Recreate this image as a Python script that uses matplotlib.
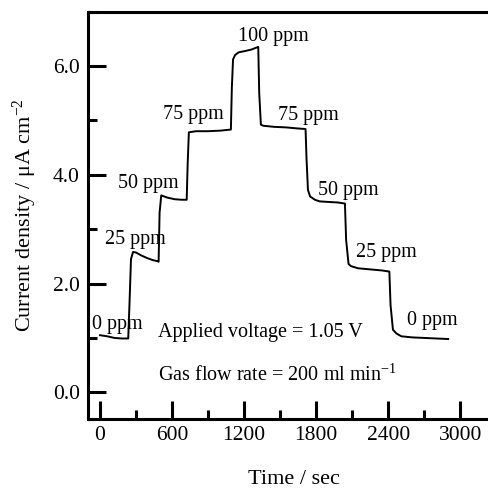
import numpy as np
import matplotlib
matplotlib.use("Agg")
import matplotlib.pyplot as plt
from matplotlib.ticker import MultipleLocator

plt.rcParams['font.family'] = ['Liberation Serif', 'DejaVu Serif']
plt.rcParams['mathtext.default'] = 'regular'

# time (sec) and current density (uA cm^-2)
time_s = [0, 60, 120, 180, 235, 245, 258, 275, 300, 340, 390, 440, 480, 488,
          496, 510, 560, 620, 680, 722, 730, 740, 800, 900, 1000, 1090,
          1098, 1108, 1125, 1155, 1200, 1260, 1318, 1326, 1340, 1360, 1450,
          1550, 1650, 1712, 1720, 1732, 1750, 1790, 1830, 1900, 1980, 2040,
          2050, 2070, 2090, 2150, 2250, 2350, 2410, 2420, 2440, 2470, 2510,
          2600, 2700, 2800, 2900]
current = [1.05, 1.03, 1.00, 0.99, 0.99, 1.60, 2.45, 2.58, 2.57, 2.52, 2.47,
           2.43, 2.41, 2.40, 3.30, 3.62, 3.58, 3.55, 3.54, 3.54, 4.20, 4.78,
           4.80, 4.80, 4.81, 4.83, 5.60, 6.12, 6.20, 6.25, 6.27, 6.30, 6.35,
           5.50, 4.92, 4.90, 4.88, 4.87, 4.85, 4.84, 4.30, 3.72, 3.60, 3.54,
           3.51, 3.50, 3.49, 3.47, 2.80, 2.36, 2.32, 2.28, 2.26, 2.24, 2.22,
           1.60, 1.15, 1.08, 1.03, 1.01, 1.00, 0.99, 0.98]

# concentration labels: (text, x, y) in data units, left/baseline anchored
labels = [("0 ppm", -65, 1.17), ("25 ppm", 42, 2.73), ("50 ppm", 151, 3.76),
          ("75 ppm", 527, 5.03), ("100 ppm", 1146, 6.46), ("75 ppm", 1481, 5.01),
          ("50 ppm", 1816, 3.63), ("25 ppm", 2134, 2.48), ("0 ppm", 2561, 1.23)]

fig = plt.figure(figsize=(4.89, 4.88), dpi=100)
ax = fig.add_axes([0.18, 0.1414, 0.82, 0.835])

ax.plot(time_s, current, color='black', lw=1.4)

for txt, x, y in labels:
    ax.text(x, y, txt, fontsize=14.5, ha='left', va='baseline')

ax.text(485, 1.01, "Applied voltage = 1.05 V", fontsize=14.5, ha='left', va='baseline')
ax.text(485, 0.22, "Gas flow rate = 200 ml min$^{-1}$", fontsize=14.5, ha='left', va='baseline')

ax.set_xlim(-100, 3240)
ax.set_ylim(-0.49, 7.0)
ax.xaxis.set_major_locator(MultipleLocator(600))
ax.xaxis.set_minor_locator(MultipleLocator(300))
ax.yaxis.set_major_locator(MultipleLocator(2))
ax.yaxis.set_minor_locator(MultipleLocator(1))
ax.yaxis.set_major_formatter(matplotlib.ticker.FormatStrFormatter('%.1f'))

ax.tick_params(which='both', direction='in', width=2.2, labelsize=15.5,
               top=False, right=False)
ax.tick_params(which='major', length=13)
ax.tick_params(which='minor', length=6.5)
ax.tick_params(axis='y', pad=6)
ax.tick_params(axis='x', pad=5)

ax.spines['right'].set_visible(False)
for s in ['left', 'bottom', 'top']:
    ax.spines[s].set_linewidth(2.2)

ax.set_xlabel("Time / sec", fontsize=16)
ax.set_ylabel("Current density / μA cm$^{-2}$", fontsize=16)
ax.xaxis.set_label_coords(0.514, -0.125)
ax.yaxis.set_label_coords(-0.122, 0.5)

fig.savefig("out.png", dpi=100)
